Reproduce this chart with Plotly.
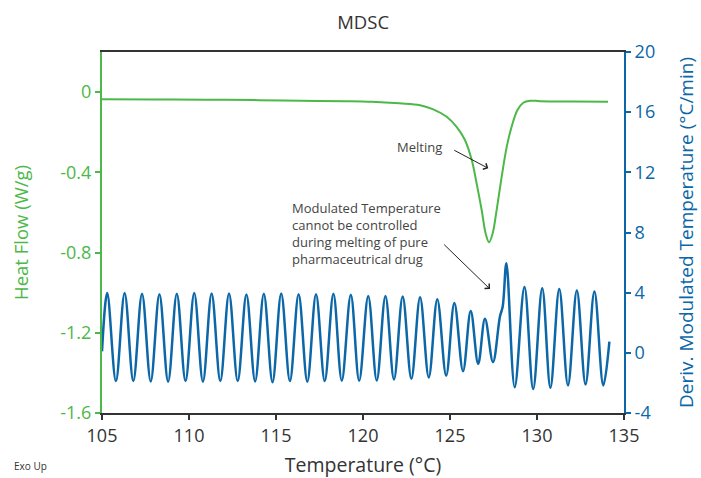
import plotly.graph_objects as go

# Heat flow signal (W/g) versus temperature (°C)
hf_temp = [105.0, 108.0, 111.0, 114.0, 116.4, 119.0, 120.5, 122.1, 123.28, 124.04,
           124.81, 125.38, 125.86, 126.25, 126.53, 126.82, 127.05, 127.24,
           127.45, 127.68, 127.97, 128.26, 128.54, 128.87, 129.21, 129.6, 130.17,
           132.0, 134.08]
hf_value = [-0.036, -0.037, -0.038, -0.040, -0.043, -0.045, -0.048, -0.056, -0.065, -0.086,
            -0.123, -0.173, -0.239, -0.339, -0.455, -0.588, -0.705, -0.749,
            -0.705, -0.588, -0.422, -0.273, -0.173, -0.090, -0.053, -0.043, -0.045,
            -0.047, -0.048]

# Deriv. modulated temperature (°C/min): successive peaks and troughs of the modulation
mod_temp = [105.0,
            105.3, 105.8, 106.3, 106.8, 107.3, 107.8, 108.3, 108.8, 109.3, 109.8,
            110.3, 110.8, 111.3, 111.8, 112.3, 112.8, 113.3, 113.8, 114.3, 114.8,
            115.3, 115.8, 116.3, 116.8, 117.3, 117.8,
            118.3, 118.78, 119.3, 119.78, 120.3, 120.79, 121.29, 121.78, 122.28, 122.78,
            123.28, 123.78, 124.27, 124.78, 125.25, 125.75, 126.19, 126.62, 127.01, 127.47,
            127.87, 128.03, 128.24, 128.72, 129.28, 129.78, 130.30, 130.77, 131.28, 131.78,
            132.29, 132.79, 133.30, 133.81, 134.16]
mod_rate = [0.1,
            3.97, -1.88, 3.97, -1.88, 3.93, -1.90, 3.90, -1.92, 3.93, -1.88,
            3.97, -1.92, 3.95, -1.88, 3.95, -1.88, 3.87, -1.90, 3.93, -1.95,
            3.95, -1.88, 3.90, -1.92, 3.90, -1.88,
            3.92, -1.85, 3.86, -1.86, 3.78, -1.84, 3.78, -1.78, 3.74, -1.73,
            3.69, -1.64, 3.57, -1.52, 3.32, -1.22, 2.78, -0.74, 2.26, -0.62,
            2.41, 3.08, 5.95, -2.29, 4.37, -2.40, 4.29, -2.32, 4.24, -2.16,
            4.15, -2.10, 4.08, -2.17, 0.75]

x_ticks = [105, 110, 115, 120, 125, 130, 135]
hf_ticks = [-1.6, -1.2, -0.8, -0.4, 0]
hf_tick_text = ["-1.6", "-1.2", "-0.8", "-0.4", "0"]
rate_ticks = [-4, 0, 4, 8, 12, 16, 20]
rate_tick_text = ["-4", "0", "4", "8", "12", "16", "20"]

GREEN = "#4cb848"
BLUE = "#0b67a7"
DARK = "#333333"
NOTE = "#444444"
FONT = "Open Sans"

fig = go.Figure()
fig.add_trace(go.Scatter(x=hf_temp, y=hf_value, mode="lines", yaxis="y",
                         line=dict(color=GREEN, width=2, shape="spline", smoothing=1.0),
                         name="Heat Flow", showlegend=False))
fig.add_trace(go.Scatter(x=mod_temp, y=mod_rate, mode="lines", yaxis="y2",
                         line=dict(color=BLUE, width=2.5, shape="spline", smoothing=1.0),
                         name="Deriv. Modulated Temperature", showlegend=False))

annotations = [
    # melting label and arrow
    dict(x=124.66, y=-0.273, xref="x", yref="y", text="Melting", showarrow=False,
         xanchor="right", yanchor="middle", font=dict(size=13, color=NOTE, family=FONT)),
    dict(x=127.2, y=-0.38, xref="x", yref="y", ax=125.16, ay=-0.286, axref="x", ayref="y",
         text="", showarrow=True, arrowhead=4, arrowsize=1.3, arrowwidth=1, arrowcolor="#222222"),
    # modulation comment and arrow
    dict(x=115.8, y=7.91, xref="x", yref="y2",
         text="Modulated Temperature<br>cannot be controlled<br>during melting of pure<br>pharmaceutrical drug",
         showarrow=False, xanchor="left", yanchor="middle", align="left",
         font=dict(size=13, color=NOTE, family=FONT)),
    dict(x=127.3, y=4.24, xref="x", yref="y2", ax=124.58, ay=7.29, axref="x", ayref="y2",
         text="", showarrow=True, arrowhead=4, arrowsize=1.3, arrowwidth=1, arrowcolor="#222222"),
    # exotherm direction note
    dict(x=-0.172, y=-0.147, xref="paper", yref="paper", xanchor="left", yanchor="middle",
         text="Exo Up", showarrow=False, font=dict(size=10, color=DARK, family=FONT)),
]

fig.update_layout(
    width=701, height=478,
    margin=dict(l=102, r=77, t=52, b=65),
    paper_bgcolor="white", plot_bgcolor="white",
    font=dict(family=FONT, color=DARK),
    title=dict(text="MDSC", x=0.518, xanchor="center", y=0.952, yanchor="middle",
               font=dict(size=18.5, color=DARK, family=FONT)),
    xaxis=dict(range=[105, 135], tickvals=x_ticks, showgrid=False, zeroline=False,
               showline=True, linecolor=DARK, linewidth=2, mirror=True,
               ticks="outside", ticklen=5, tickcolor=DARK, tickwidth=1.5,
               tickfont=dict(size=18, color=DARK, family=FONT), automargin=False,
               title=dict(text="Temperature (°C)", font=dict(size=19.5, color=DARK, family=FONT),
                          standoff=19)),
    yaxis=dict(range=[-1.6, 0.2], tickvals=hf_ticks, ticktext=hf_tick_text,
               showgrid=False, zeroline=False,
               showline=True, linecolor=GREEN, linewidth=2,
               ticks="outside", ticklen=5, tickcolor=GREEN, tickwidth=1.5,
               tickfont=dict(size=18, color=GREEN, family=FONT), automargin=False,
               title=dict(text="Heat Flow (W/g)", font=dict(size=18.5, color=GREEN, family=FONT),
                          standoff=27)),
    yaxis2=dict(range=[-4, 20], tickvals=rate_ticks, ticktext=rate_tick_text,
                overlaying="y", side="right", showgrid=False, zeroline=False,
                showline=True, linecolor=BLUE, linewidth=2,
                ticks="outside", ticklen=5, tickcolor=BLUE, tickwidth=1.5,
                tickfont=dict(size=18, color=BLUE, family=FONT), automargin=False,
                title=dict(text="Deriv. Modulated Temperature (°C/min)",
                           font=dict(size=19, color=BLUE, family=FONT), standoff=26)),
    annotations=annotations,
)

fig.write_html("out.html")
